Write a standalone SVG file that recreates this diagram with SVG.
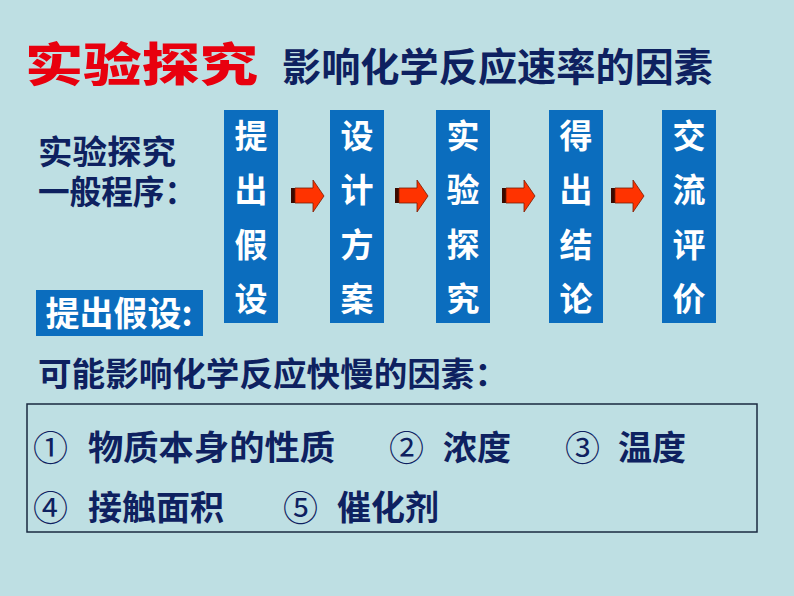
<svg xmlns="http://www.w3.org/2000/svg" width="794" height="596" viewBox="0 0 794 596">
<style>
.t{font-family:"Noto Sans CJK SC","Noto Sans",sans-serif;font-weight:bold;fill:#0E2160}
.n{font-family:"Noto Sans CJK SC","Noto Sans",sans-serif;font-weight:normal;fill:#0E2160;font-size:35px}
.w{font-family:"Noto Sans CJK SC","Noto Sans",sans-serif;font-weight:bold;fill:#FFFFFF;font-size:33px;text-anchor:middle}
.box{fill:#0B6DBE}
.ah{fill:#FF3300;stroke:#7A1A00;stroke-width:0.8}
.as{fill:#3A0A00}
</style>
<defs>
<g id="arr">
<polygon class="as" points="0,8 6,8 6,23 0,23"/>
<polygon class="ah" points="4,8 22,8 22,0 33,16 22,32 22,23 4,23"/>
</g>
</defs>
<rect width="794" height="596" fill="#BEDFE3"/>
<g id="title">
<text x="25" y="81" font-family="Noto Sans CJK SC,sans-serif" font-weight="900" font-size="46" fill="#E8000E" textLength="233" lengthAdjust="spacingAndGlyphs">实验探究</text>
<text class="t" x="282" y="81" font-size="39" textLength="431" lengthAdjust="spacingAndGlyphs">影响化学反应速率的因素</text>
</g>
<g id="procedure-label">
<text class="t" x="38" y="164" font-size="33" textLength="138" lengthAdjust="spacingAndGlyphs">实验探究</text>
<text class="t" x="38" y="204" font-size="33" textLength="158" lengthAdjust="spacingAndGlyphs">一般程序：</text>
</g>
<g id="step1">
<rect class="box" x="224" y="110" width="54" height="213"/>
<text class="w" x="251" y="148">提</text><text class="w" x="251" y="202">出</text><text class="w" x="251" y="257">假</text><text class="w" x="251" y="311">设</text>
</g>
<g id="step2">
<rect class="box" x="330" y="110" width="54" height="213"/>
<text class="w" x="357" y="148">设</text><text class="w" x="357" y="202">计</text><text class="w" x="357" y="257">方</text><text class="w" x="357" y="311">案</text>
</g>
<g id="step3">
<rect class="box" x="436" y="110" width="54" height="213"/>
<text class="w" x="463" y="148">实</text><text class="w" x="463" y="202">验</text><text class="w" x="463" y="257">探</text><text class="w" x="463" y="311">究</text>
</g>
<g id="step4">
<rect class="box" x="549" y="110" width="54" height="213"/>
<text class="w" x="576" y="148">得</text><text class="w" x="576" y="202">出</text><text class="w" x="576" y="257">结</text><text class="w" x="576" y="311">论</text>
</g>
<g id="step5">
<rect class="box" x="662" y="110" width="54" height="213"/>
<text class="w" x="689" y="148">交</text><text class="w" x="689" y="202">流</text><text class="w" x="689" y="257">评</text><text class="w" x="689" y="311">价</text>
</g>
<g id="connectors">
<use href="#arr" x="291" y="180"/>
<use href="#arr" x="395" y="180"/>
<use href="#arr" x="502" y="180"/>
<use href="#arr" x="611" y="180"/>
</g>
<g id="hypothesis">
<rect class="box" x="36" y="290" width="167" height="46"/>
<text x="119" y="326" font-family="Noto Sans CJK SC,sans-serif" font-weight="bold" font-size="34" fill="#FFFFFF" text-anchor="middle">提出假设:</text>
</g>
<g id="factors-label">
<text class="t" x="38" y="386" font-size="33" textLength="470" lengthAdjust="spacingAndGlyphs">可能影响化学反应快慢的因素：</text>
</g>
<g id="factors">
<rect x="27" y="404" width="730" height="128" fill="none" stroke="#1A2A40" stroke-width="1.5"/>
<text class="n" x="33" y="461">①</text>
<text class="t" x="88" y="460" font-size="34" textLength="247" lengthAdjust="spacingAndGlyphs">物质本身的性质</text>
<text class="n" x="389" y="461">②</text>
<text class="t" x="443" y="460" font-size="34">浓度</text>
<text class="n" x="565" y="461">③</text>
<text class="t" x="618" y="460" font-size="34">温度</text>
<text class="n" x="33" y="521">④</text>
<text class="t" x="88" y="520" font-size="34">接触面积</text>
<text class="n" x="283" y="521">⑤</text>
<text class="t" x="337" y="520" font-size="34">催化剂</text>
</g>
</svg>
